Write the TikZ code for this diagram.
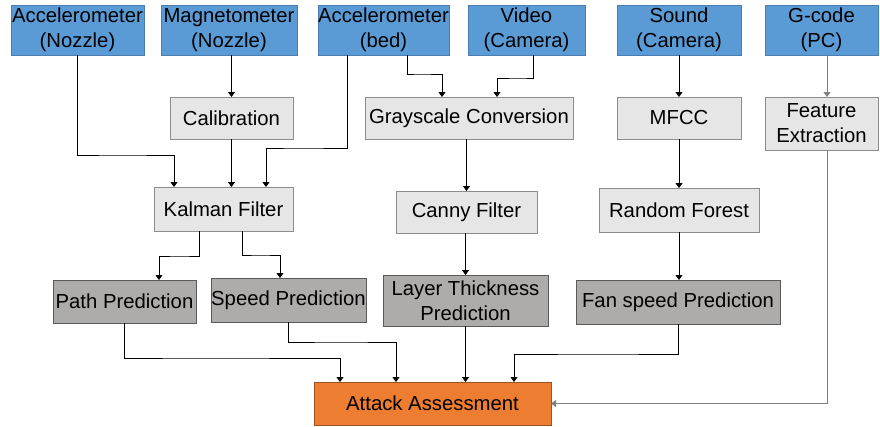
\documentclass[tikz,border=0pt]{standalone}
\usepackage{fontspec}
\setmainfont{Liberation Sans}
\usetikzlibrary{arrows.meta}
\definecolor{srcblue}{HTML}{5B9BD5}
\definecolor{srcedge}{HTML}{4A7EB0}
\definecolor{procfill}{HTML}{E7E6E6}
\definecolor{procedge}{HTML}{8C8C8C}
\definecolor{predfill}{HTML}{AEABAB}
\definecolor{prededge}{HTML}{5A5A5A}
\definecolor{attfill}{HTML}{ED7D31}
\definecolor{attedge}{HTML}{9C5220}
\definecolor{linegray}{HTML}{7F7F7F}
\tikzset{
  base/.style={rectangle, inner sep=0pt, outer sep=0pt, align=center, line width=0.8pt,
    font=\fontsize{20.3}{25}\selectfont},
  src/.style={base, fill=srcblue, draw=srcedge},
  proc/.style={base, fill=procfill, draw=procedge},
  pred/.style={base, fill=predfill, draw=prededge},
  att/.style={base, fill=attfill, draw=attedge},
  arr/.style={draw=black, line width=0.8pt, -{Triangle[width=7pt,length=5pt]}},
  garr/.style={arr, draw=linegray},
}
% \bx{name}{x1}{y1}{x2}{y2}{style}{text}
\newcommand{\bx}[7]{%
  \pgfmathsetmacro{\bxw}{#4-#2}\pgfmathsetmacro{\bxh}{#5-#3}%
  \node[#6, minimum width=\bxw pt, minimum height=\bxh pt] (#1) at ({(#2+#4)/2},{(#3+#5)/2}) {#7};}
\begin{document}
\begin{tikzpicture}[x=1pt,y=-1pt]
\useasboundingbox (0,0) rectangle (880,426);
% sources
\bx{accN}{11}{5}{144}{55}{src}{Accelerometer\\(Nozzle)}
\bx{mag}{161}{5}{297}{55}{src}{Magnetometer\\(Nozzle)}
\bx{accB}{318}{5}{449}{55}{src}{Accelerometer\\(bed)}
\bx{vid}{468}{5}{585}{55}{src}{Video\\(Camera)}
\bx{snd}{617}{5}{741}{55}{src}{Sound\\(Camera)}
\bx{gc}{765}{5}{878}{55}{src}{G-code\\(PC)}
% processing
\bx{cal}{170}{97}{293}{139}{proc}{Calibration}
\bx{gray}{365}{97}{573}{139}{proc}{Grayscale Conversion}
\bx{mfcc}{617}{97}{741}{139}{proc}{MFCC}
\bx{feat}{765}{97}{878}{150}{proc}{Feature\\Extraction}
\bx{kal}{154}{187}{293}{231}{proc}{Kalman Filter}
\bx{canny}{396}{191}{537}{233}{proc}{Canny Filter}
\bx{rf}{599}{188}{759}{232}{proc}{Random Forest}
% predictions
\bx{path}{53}{280}{196}{323}{pred}{Path Prediction}
\bx{speed}{211}{278}{366}{322}{pred}{Speed Prediction}
\bx{layer}{383}{275}{548}{326}{pred}{Layer Thickness\\Prediction}
\bx{fan}{576}{280}{780}{324}{pred}{Fan speed Prediction}
% attack
\bx{att}{314}{382}{551}{425}{att}{Attack Assessment}
% connectors
\draw[arr] (accN.south) |- (120,155) -| ([xshift=-49.5pt]kal.north);
\draw[arr] (cal.north |- mag.south) -- (cal.north);
\draw[arr] (cal.south) -- (cal.south |- kal.north);
\draw[arr] ([xshift=-36.5pt]accB.south) |- (300,148) -| ([xshift=42.5pt]kal.north);
\draw[arr] ([xshift=23.5pt]accB.south) |- (420,74) -| ([xshift=-27pt]gray.north);
\draw[arr] ([xshift=6.5pt]vid.south) |- (520,78) -| ([xshift=28pt]gray.north);
\draw[arr] (canny.north |- gray.south) -- (canny.north);
\draw[arr] (snd.south) -- (mfcc.north);
\draw[garr] ([xshift=5.5pt]gc.south) -- ([xshift=5.5pt]feat.north);
\draw[arr] (mfcc.south) -- (rf.north);
\draw[arr] ([xshift=-24.5pt]kal.south) |- (180,256) -| ([xshift=34.5pt]path.north);
\draw[arr] ([xshift=18.5pt]kal.south) |- (260,255) -| ([xshift=-8.5pt]speed.north);
\draw[arr] (layer.north |- canny.south) -- (layer.north);
\draw[arr] (rf.south) -- (rf.south |- fan.north);
\draw[arr] (path.south) |- (200,358) -| ([xshift=-92.5pt]att.north);
\draw[arr] (speed.south) |- (340,342) -| ([xshift=-36.5pt]att.north);
\draw[arr] (layer.south) -- (layer.south |- att.north);
\draw[arr] (fan.south) |- (600,354) -| ([xshift=81.5pt]att.north);
\draw[garr] ([xshift=5.5pt]feat.south) |- (att.east);
\end{tikzpicture}
\end{document}
